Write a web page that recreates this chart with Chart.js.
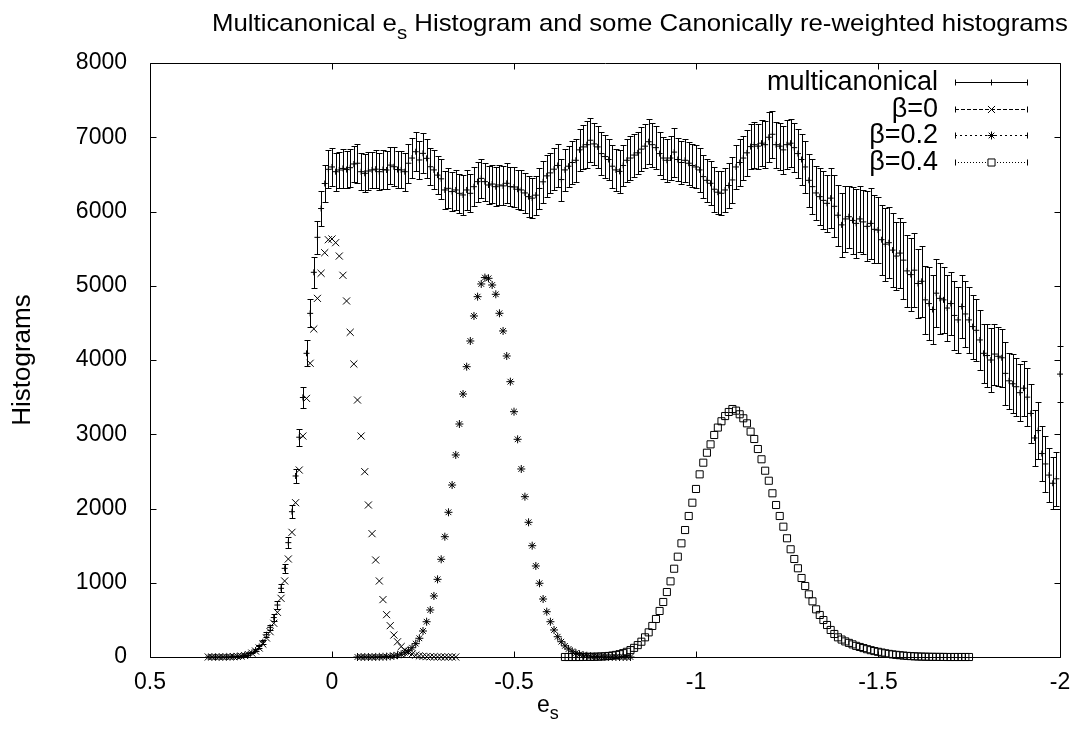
<!DOCTYPE html>
<html lang="en">
<head>
<meta charset="UTF-8">
<title>Multicanonical e_s histogram</title>
<style>
  body { margin: 0; background: #fff; }
  #chart { display: block; }
</style>
</head>
<body>
<canvas id="chart" width="1078" height="744"></canvas>
<script src="https://cdn.jsdelivr.net/npm/chart.js@4/dist/chart.umd.min.js"></script>
<script>
// histogram bins in e_s, all series go downwards from their start value
const eStep = 0.01;

// multicanonical histogram (with error bars), 0.34 .. -2.00
const mucaStart = 0.34;
const mucaValues = [
  0, 0, 0, 0, 1, 1, 3, 5, 8, 14, 24, 39, 61, 94, 141, 205, 300,
  400, 531, 700, 925, 1194, 1540, 1957, 2438, 2960, 3495, 4090, 4628, 5181, 5652, 6040, 6377, 6568,
  6600, 6536, 6559, 6580, 6565, 6590, 6640, 6650, 6536, 6514,
  6545, 6560, 6570, 6536, 6565, 6559, 6625, 6603, 6565, 6560,
  6536, 6650, 6720, 6805, 6694, 6783, 6716, 6603, 6560, 6490,
  6440, 6290, 6312, 6268, 6290, 6245, 6223, 6290, 6245, 6334,
  6402, 6446, 6402, 6357, 6370, 6334, 6357, 6345, 6380, 6335,
  6330, 6300, 6290, 6250, 6200, 6180, 6220, 6310, 6400, 6480,
  6520, 6570, 6620, 6430, 6560, 6610, 6660, 6690, 6830, 6870,
  6900, 6960, 6910, 6870, 6780, 6740, 6700, 6610, 6560, 6540,
  6620, 6690, 6720, 6760, 6790, 6840, 6880, 6940, 6900, 6860,
  6780, 6720, 6690, 6720, 6800, 6700, 6660, 6690, 6650, 6620,
  6600, 6560, 6470, 6420, 6380, 6300, 6260, 6245, 6290, 6350,
  6425, 6600, 6660, 6720, 6790, 6874, 6900, 6880, 6920, 6900,
  7000, 7040, 6900, 6880, 6830, 6900, 6920, 6860, 6780, 6700,
  6600, 6420, 6335, 6250, 6200, 6150, 6110, 6180, 6070, 5950,
  5820, 5900, 5930, 5880, 5840, 5900, 5860, 5800, 5840, 5760,
  5750, 5620, 5560, 5580, 5480, 5400, 5440, 5345, 5200, 5150,
  5210, 5030, 5060, 4810, 4760, 4680, 4900, 4830, 4810, 4700,
  4760, 4600, 4540, 4720, 4620, 4540, 4450, 4400, 4270, 4090,
  4060, 4000, 4080, 4050, 4030, 3820, 3720, 3680, 3640, 3560,
  3620, 3500, 3280, 2950, 3050, 2740, 2600, 2450, 2340, 2400,
  3810
];
const mucaErrors = [
  0, 0, 0, 0, 1, 1, 2, 3, 4, 5, 7, 9, 12, 15, 20, 25, 30,
  36, 42, 48, 56, 65, 75, 85, 100, 115, 146, 175, 190, 210, 225, 240, 250, 255,
  250, 255, 245, 260, 250, 255, 248, 262, 250, 258,
  252, 246, 258, 250, 262, 255, 248, 260, 252, 250,
  258, 262, 270, 265, 255, 268, 260, 252, 262, 258,
  265, 262, 270, 258, 266, 262, 270, 265, 258, 262,
  268, 262, 255, 262, 258, 265, 270, 262, 268, 265,
  270, 265, 272, 268, 275, 270, 262, 275, 280, 278,
  272, 285, 290, 282, 280, 275, 288, 292, 285, 300,
  320, 295, 288, 282, 290, 285, 278, 292, 285, 290,
  282, 288, 295, 290, 285, 292, 298, 300, 295, 288,
  290, 282, 288, 300, 330, 292, 285, 290, 288, 295,
  290, 298, 292, 288, 295, 300, 290, 298, 295, 300,
  305, 298, 310, 302, 308, 300, 312, 305, 310, 320,
  340, 315, 310, 318, 325, 330, 320, 328, 335, 340,
  345, 360, 370, 365, 380, 390, 385, 400, 420, 410,
  430, 440, 420, 450, 460, 445, 430, 470, 480, 460,
  450, 470, 490, 480, 500, 460, 470, 520, 480, 490,
  500, 470, 480, 460, 490, 470, 460, 480, 440, 450,
  430, 460, 440, 420, 450, 440, 430, 420, 410, 400,
  420, 430, 410, 400, 390, 420, 380, 400, 390, 380,
  370, 390, 400, 380, 390, 370, 380, 360, 350, 360,
  372
];

// canonically re-weighted histograms
const beta0Start = 0.34;
const beta0Values = [
  0, 0, 0, 0, 0, 1, 2, 4, 7, 12, 20, 33, 52, 80, 121, 175, 256,
  341, 454, 602, 790, 1024, 1320, 1679, 2078, 2518, 2976, 3483, 3956, 4418, 4830, 5168, 5445, 5620,
  5630, 5580, 5400, 5141, 4795, 4373, 3946, 3461, 2976, 2496, 2047, 1661, 1306, 1024, 773, 570, 422, 296,
  205, 140, 95, 62, 40, 25, 15, 9, 5, 3, 2, 1, 1, 0, 0, 0, 0
];
const beta02Start = -0.07;
const beta02Values = [
  0, 0, 0, 0, 0, 1, 2, 3, 5, 9, 15, 24, 37, 57, 85, 125, 180,
  252, 350, 475, 633, 822, 1046, 1316, 1620, 1949, 2316, 2721, 3138, 3542, 3910, 4256, 4593, 4853,
  5024, 5110, 5100, 5010, 4885, 4629, 4391, 4054, 3708, 3304, 2932, 2532, 2159, 1814, 1499, 1226, 993,
  781, 610, 475, 364, 273, 206, 150, 108, 77, 54, 37, 25, 17, 11, 7, 4, 3,
  2, 1, 1, 0, 0, 0, 0, 0
];
const beta04Start = -0.64;
const beta04Values = [
  0, 0, 0, 0, 0, 1, 2, 2, 3, 5,
  7, 10, 14, 20, 28, 38, 52, 70, 93, 123, 160,
  206, 265, 332, 418, 512, 620, 741, 875, 1019, 1189, 1351, 1531, 1710, 1899, 2078, 2263,
  2460, 2617, 2751, 2864, 2990, 3090, 3175, 3245, 3300, 3340,
  3318, 3269, 3215, 3147, 3035, 2936, 2801, 2663, 2509, 2374,
  2205, 2047, 1899, 1755, 1599, 1451, 1320, 1195, 1064, 956,
  844, 750, 642, 566, 498, 431, 364, 310, 265, 235,
  210, 190, 170, 150, 135, 120, 105, 92, 80, 70,
  60, 50, 42, 35, 29, 24, 19, 15, 12, 9,
  7, 5, 4, 3, 2, 2, 1, 1, 0, 0,
  0, 0, 0, 0, 0
];

const seriesNames = ['multicanonical', 'β=0', 'β=0.2', 'β=0.4'];
const xTicks = [0.5, 0, -0.5, -1, -1.5, -2];
const yTicks = [0, 1000, 2000, 3000, 4000, 5000, 6000, 7000, 8000];

const FONT = "'Liberation Sans', Arial, Helvetica, sans-serif";

function toPoints(start, values) {
  return values.map((v, i) => ({ x: Math.round((start - i * eStep) * 100) / 100, y: v }));
}

// text with a subscript part, parts = [[text, isSub], ...]
function drawParts(ctx, parts, x, y, size) {
  parts.forEach(([t, sub]) => {
    ctx.font = (sub ? Math.round(size * 0.78) : size) + 'px ' + FONT;
    ctx.fillText(t, x, sub ? y + size * 0.32 : y);
    x += ctx.measureText(t).width;
  });
}
function partsWidth(ctx, parts, size) {
  let w = 0;
  parts.forEach(([t, sub]) => {
    ctx.font = (sub ? Math.round(size * 0.78) : size) + 'px ' + FONT;
    w += ctx.measureText(t).width;
  });
  return w;
}

const decorations = {
  id: 'decorations',
  beforeDatasetsDraw(chart) {
    // error bars of the multicanonical histogram
    const { ctx, scales: { x, y } } = chart;
    const pts = chart.data.datasets[0].data;
    ctx.save();
    ctx.strokeStyle = '#000';
    ctx.lineWidth = 1;
    ctx.beginPath();
    pts.forEach((p, i) => {
      const err = mucaErrors[i] || 0;
      if (err <= 0) return;
      const px = Math.round(x.getPixelForValue(p.x)) + 0.5;
      const top = Math.round(y.getPixelForValue(p.y + err)) + 0.5;
      const bot = Math.round(y.getPixelForValue(p.y - err)) + 0.5;
      ctx.moveTo(px, top); ctx.lineTo(px, bot);
      ctx.moveTo(px - 3, top); ctx.lineTo(px + 3, top);
      ctx.moveTo(px - 3, bot); ctx.lineTo(px + 3, bot);
    });
    ctx.stroke();
    ctx.restore();
  },
  afterDraw(chart) {
    const { ctx, chartArea: a, scales: { x, y } } = chart;
    ctx.save();
    ctx.strokeStyle = '#000';
    ctx.fillStyle = '#000';
    ctx.lineWidth = 1;

    // frame with inward ticks on all four sides
    const L = Math.round(a.left) + 0.5, R = Math.round(a.right) + 0.5;
    const T = Math.round(a.top) + 0.5, B = Math.round(a.bottom) + 0.5;
    ctx.beginPath();
    ctx.rect(L, T, R - L, B - T);
    xTicks.forEach(v => {
      const px = Math.round(x.getPixelForValue(v)) + 0.5;
      ctx.moveTo(px, B); ctx.lineTo(px, B - 6);
      ctx.moveTo(px, T); ctx.lineTo(px, T + 6);
    });
    yTicks.forEach(v => {
      const py = Math.round(y.getPixelForValue(v)) + 0.5;
      ctx.moveTo(L, py); ctx.lineTo(L + 6, py);
      ctx.moveTo(R, py); ctx.lineTo(R - 6, py);
    });
    ctx.stroke();

    // title, squeezed into the width it has in the original
    ctx.textAlign = 'left';
    ctx.textBaseline = 'alphabetic';
    const title = [['Multicanonical e', false], ['s', true], [' Histogram and some Canonically re-weighted histograms', false]];
    const tw = partsWidth(ctx, title, 24);
    ctx.save();
    ctx.translate(212, 31);
    ctx.scale(856 / tw, 1);
    drawParts(ctx, title, 0, 0, 24);
    ctx.restore();

    // axis labels
    drawParts(ctx, [['e', false], ['s', true]], 537, 712, 23);
    ctx.save();
    ctx.translate(30, 360);
    ctx.rotate(-Math.PI / 2);
    ctx.textAlign = 'center';
    ctx.font = '26px ' + FONT;
    ctx.fillText('Histograms', 0, 0);
    ctx.restore();

    // key, top right inside the frame
    const dashes = [[], [4, 2], [2, 3], [1, 2]];
    chart.data.datasets.forEach((ds, i) => {
      const ly = 82 + i * 26.5;
      ctx.fillStyle = '#000';
      ctx.font = '27px ' + FONT;
      ctx.textAlign = 'right';
      ctx.textBaseline = 'middle';
      ctx.fillText(seriesNames[i], 938, ly + 1);
      const yy = Math.round(ly) + 0.5;
      ctx.beginPath();
      ctx.setLineDash(dashes[i]);
      ctx.moveTo(955, yy); ctx.lineTo(1028, yy);
      ctx.stroke();
      ctx.setLineDash([]);
      ctx.beginPath();
      ctx.moveTo(955.5, yy - 3); ctx.lineTo(955.5, yy + 3);
      ctx.moveTo(1027.5, yy - 3); ctx.lineTo(1027.5, yy + 3);
      ctx.stroke();
      ctx.fillStyle = '#fff';
      Chart.helpers.drawPoint(ctx, {
        pointStyle: ds.pointStyle, radius: ds.pointRadius, borderWidth: 1
      }, 991.5, yy);
    });
    ctx.restore();
  }
};

const ctx = document.getElementById('chart').getContext('2d');
const common = {
  borderColor: '#000',
  backgroundColor: 'rgba(0,0,0,0)',
  pointBorderWidth: 1,
  showLine: false,
  clip: false
};
new Chart(ctx, {
  type: 'scatter',
  data: {
    datasets: [
      { ...common, label: seriesNames[0], data: toPoints(mucaStart, mucaValues), pointStyle: 'cross', pointRadius: 3 },
      { ...common, label: seriesNames[1], data: toPoints(beta0Start, beta0Values), pointStyle: 'crossRot', pointRadius: 5 },
      { ...common, label: seriesNames[2], data: toPoints(beta02Start, beta02Values), pointStyle: 'star', pointRadius: 4 },
      { ...common, label: seriesNames[3], data: toPoints(beta04Start, beta04Values), pointStyle: 'rect', pointRadius: 5 }
    ]
  },
  options: {
    responsive: false,
    animation: false,
    events: [],
    layout: { padding: { top: 63, right: 18, left: 0, bottom: 0 } },
    plugins: { legend: { display: false }, tooltip: { enabled: false }, title: { display: false } },
    scales: {
      x: {
        type: 'linear', reverse: true, min: -2, max: 0.5,
        afterBuildTicks: s => { s.ticks = xTicks.map(v => ({ value: v })); },
        afterFit: s => { s.height = 87; },
        ticks: { color: '#000', padding: 4, font: { family: FONT, size: 23 }, callback: v => String(v), maxRotation: 0 },
        grid: { display: false },
        border: { display: false }
      },
      y: {
        type: 'linear', min: 0, max: 8000,
        afterBuildTicks: s => { s.ticks = yTicks.map(v => ({ value: v })); },
        afterFit: s => { s.width = 150; },
        ticks: { color: '#000', padding: 15, font: { family: FONT, size: 23 }, callback: v => String(v) },
        grid: { display: false },
        border: { display: false }
      }
    }
  },
  plugins: [decorations]
});
</script>
</body>
</html>
